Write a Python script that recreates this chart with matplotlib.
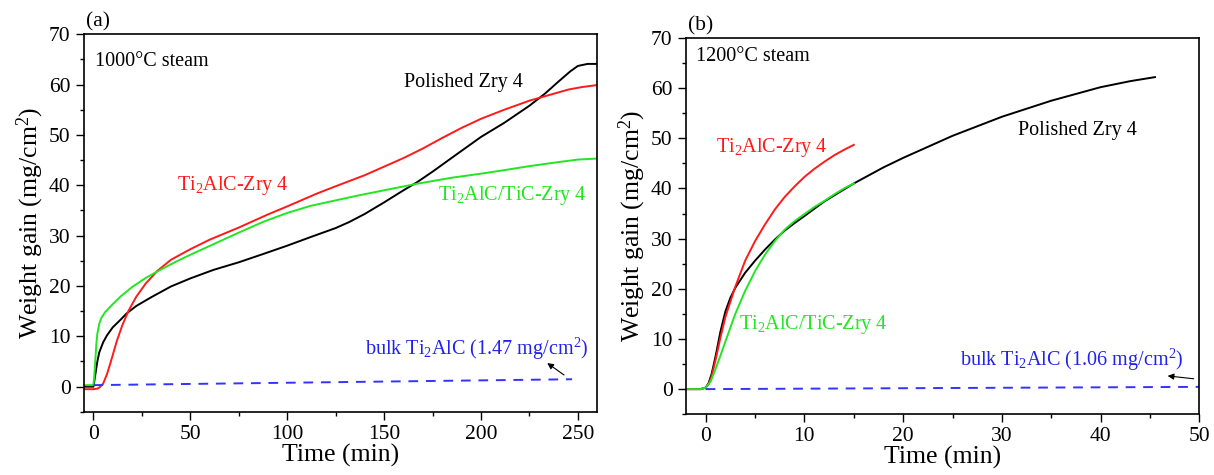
import matplotlib
matplotlib.use("Agg")
import matplotlib.pyplot as plt
from matplotlib.ticker import MultipleLocator
import numpy as np

plt.rcParams["font.family"] = ["Liberation Serif", "DejaVu Serif"]
plt.rcParams["mathtext.fontset"] = "custom"
plt.rcParams["mathtext.rm"] = "Liberation Serif"
plt.rcParams["mathtext.it"] = "Liberation Serif"
plt.rcParams["mathtext.default"] = "regular"

# (a) 1000 C steam
a_zry_t = [-5, 0, 1, 2, 3, 5, 7, 10, 14, 17, 22, 30, 40, 50, 62, 75, 88, 100, 112, 125, 132,
           140, 150, 160, 167, 175, 188, 200, 212, 225, 233, 240, 246, 250, 255, 260]
a_zry_w = [0, 0, 2.5, 5.0, 6.8, 8.8, 10.2, 11.8, 13.3, 14.5, 16.0, 17.8, 19.9, 21.5, 23.2, 24.7,
           26.4, 28.0, 29.7, 31.5, 32.7, 34.3, 36.6, 39.0, 40.6, 42.7, 46.3, 49.6, 52.4, 55.8,
           58.2, 60.6, 62.6, 63.7, 64.1, 64.1]
a_ti2alc_t = [-5, 0, 2, 3, 5, 7, 9, 12, 15, 18, 22, 27, 33, 40, 50, 60, 75, 90, 100, 115, 125,
              140, 150, 160, 170, 180, 190, 200, 212, 225, 235, 245, 252, 260]
a_ti2alc_w = [-0.5, -0.5, -0.4, -0.2, 0.6, 2.5, 5.0, 9.0, 12.3, 15.0, 17.8, 20.5, 23.0, 25.2,
              27.3, 29.2, 31.6, 34.2, 35.8, 38.3, 39.8, 42.0, 43.7, 45.4, 47.3, 49.4, 51.4,
              53.2, 55.0, 56.8, 57.9, 59.0, 59.5, 59.9]
a_tic_t = [-5, 0, 0.5, 1, 1.5, 2, 3, 4, 6, 8, 10, 14, 20, 27, 35, 43, 50, 62, 75, 88, 100, 112,
           125, 137, 150, 167, 185, 200, 212, 225, 240, 250, 260]
a_tic_w = [0.3, 0.3, 2.5, 5.5, 8.5, 10.5, 12.5, 13.6, 14.8, 15.6, 16.4, 17.9, 19.8, 21.6, 23.3,
           24.9, 26.2, 28.3, 30.6, 32.8, 34.5, 35.9, 37.0, 38.0, 39.0, 40.3, 41.5, 42.3, 43.0,
           43.8, 44.6, 45.1, 45.3]
a_bulk_t = [0, 247]
a_bulk_w = [0.3, 1.47]

# (b) 1200 C steam
b_zry_t = [-2, -0.5, 0, 0.3, 0.6, 1, 1.5, 2, 2.5, 3, 4, 5, 6, 7, 8, 9, 10, 12, 15, 18, 20, 25,
           30, 35, 40, 43, 45.5]
b_zry_w = [0, 0, 0.3, 1.2, 3.0, 6.5, 11.5, 15.5, 18.2, 20.2, 23.2, 25.6, 27.8, 29.8, 31.6, 33.1,
           34.5, 37.4, 41.0, 44.2, 46.1, 50.5, 54.3, 57.5, 60.2, 61.4, 62.2]
b_ti2alc_t = [-2, -0.5, 0, 0.3, 0.6, 1, 1.5, 2, 3, 4, 5, 6, 7, 8, 9, 10, 11, 12, 13, 14, 15]
b_ti2alc_w = [0, 0, 0.3, 1.0, 2.5, 5.8, 10.3, 14.4, 20.4, 25.6, 29.5, 32.8, 35.8, 38.3, 40.4,
              42.3, 43.9, 45.3, 46.6, 47.7, 48.7]
b_tic_t = [-2, -0.5, 0, 0.5, 1, 1.5, 2, 3, 4, 5, 6, 7, 8, 9, 10, 11, 12, 13, 14, 15]
b_tic_w = [0, 0, 0.3, 1.5, 4.0, 6.7, 9.5, 15.0, 19.6, 23.5, 26.8, 29.5, 31.8, 33.5, 34.9, 36.3,
           37.5, 38.8, 40.0, 41.0]
b_bulk_t = [0, 118]
b_bulk_w = [0.0, 1.06]

label_zry = "Polished Zry 4"
label_ti2alc = "Ti$_2$AlC-Zry 4"
label_tic = "Ti$_2$AlC/TiC-Zry 4"

fig = plt.figure(figsize=(12.14, 4.75), dpi=100)
ax1 = fig.add_axes([0.069, 0.133, 0.423, 0.795])
ax2 = fig.add_axes([0.565, 0.128, 0.423, 0.792])

fs_txt = 14.5

for ax in (ax1, ax2):
    ax.tick_params(which="both", direction="out", top=False, right=False,
                   labelsize=15.5, width=1)
    ax.tick_params(which="major", length=6)
    ax.tick_params(which="minor", length=3)
    ax.set_ylim(-5, 70)
    ax.yaxis.set_major_locator(MultipleLocator(10))
    ax.yaxis.set_minor_locator(MultipleLocator(5))
    ax.set_xlabel("Time (min)", fontsize=18.5, labelpad=0)
    ax.set_ylabel("Weight gain (mg/cm$^2$)", fontsize=18.5, labelpad=2)
    for s in ax.spines.values():
        s.set_linewidth(1.2)

# panel (a)
ax1.plot(a_zry_t, a_zry_w, color="black", lw=1.4)
ax1.plot(a_ti2alc_t, a_ti2alc_w, color="#ff1a1a", lw=1.4)
ax1.plot(a_tic_t, a_tic_w, color="#22e622", lw=1.4)
ax1.plot(a_bulk_t, a_bulk_w, color="#3333ff", lw=1.4, ls=(0, (5, 4)))
ax1.set_xlim(-5, 260)
ax1.xaxis.set_major_locator(MultipleLocator(50))
ax1.xaxis.set_minor_locator(MultipleLocator(25))
ax1.text(1, 64.5, "1000°C steam", fontsize=fs_txt, va="center")
ax1.text(160, 60.5, label_zry, fontsize=fs_txt, va="center", color="black")
ax1.text(43, 40, label_ti2alc, fontsize=fs_txt, va="center", color="#ff1a1a")
ax1.text(178, 38, label_tic, fontsize=fs_txt, va="center", color="#22e622")
ax1.text(140, 7.5, "bulk Ti$_2$AlC (1.47 mg/cm$^2$)", fontsize=fs_txt, va="center",
         color="#2222ee")
ax1.annotate("", xy=(233, 5.0), xytext=(244, 2.0),
             arrowprops=dict(arrowstyle="-|>", color="black", lw=0.8, mutation_scale=9))
fig.text(0.071, 0.945, "(a)", fontsize=15.5)

# panel (b)
ax2.plot(b_zry_t, b_zry_w, color="black", lw=1.4)
ax2.plot(b_ti2alc_t, b_ti2alc_w, color="#ff1a1a", lw=1.4)
ax2.plot(b_tic_t, b_tic_w, color="#22e622", lw=1.4)
ax2.plot(b_bulk_t, b_bulk_w, color="#3333ff", lw=1.4, ls=(0, (5, 4)))
ax2.set_xlim(-2, 50)
ax2.xaxis.set_major_locator(MultipleLocator(10))
ax2.xaxis.set_minor_locator(MultipleLocator(5))
ax2.text(-1.0, 66.3, "1200°C steam", fontsize=fs_txt, va="center")
ax2.text(31.6, 51.5, label_zry, fontsize=fs_txt, va="center", color="black")
ax2.text(1.0, 48.2, label_ti2alc, fontsize=fs_txt, va="center", color="#ff1a1a")
ax2.text(3.4, 12.8, label_tic, fontsize=fs_txt, va="center", color="#22e622")
ax2.text(25.8, 5.8, "bulk Ti$_2$AlC (1.06 mg/cm$^2$)", fontsize=fs_txt, va="center",
         color="#2222ee")
ax2.annotate("", xy=(46.5, 2.7), xytext=(49.7, 2.0),
             arrowprops=dict(arrowstyle="-|>", color="black", lw=0.8, mutation_scale=9))
fig.text(0.567, 0.935, "(b)", fontsize=15.5)

fig.savefig("out.png", dpi=100)
